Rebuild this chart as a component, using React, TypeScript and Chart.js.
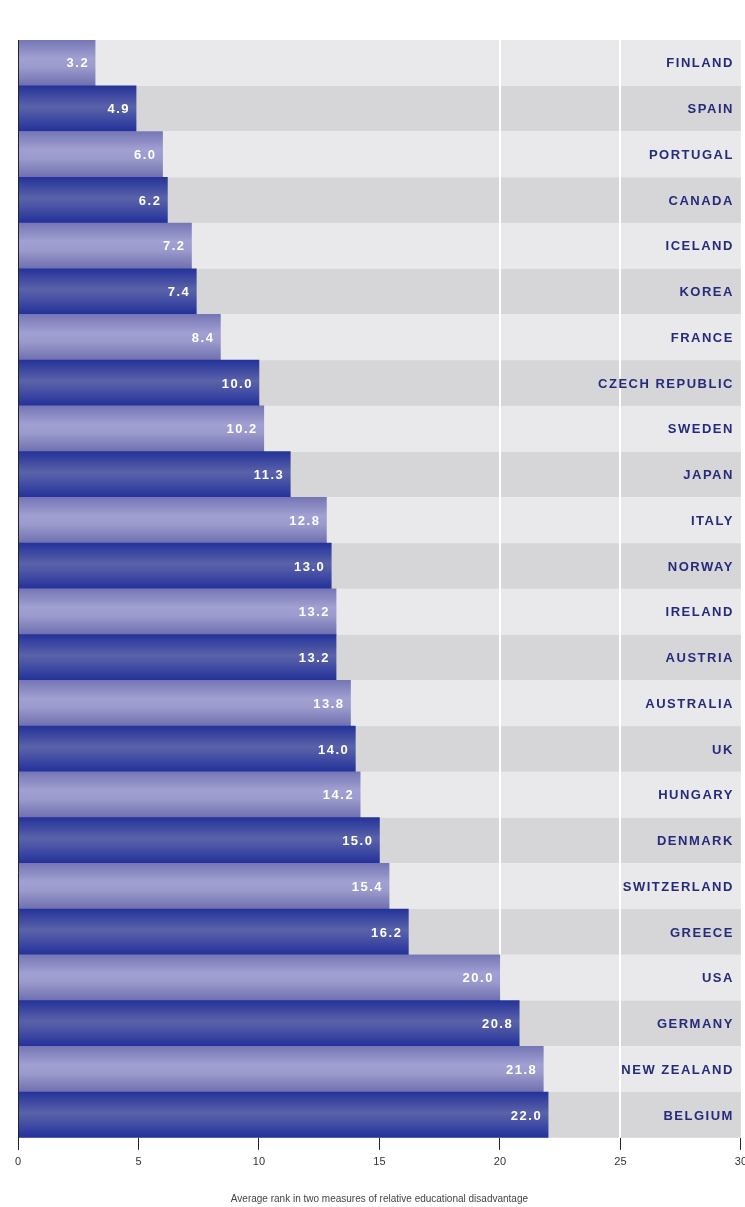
import React, { useEffect, useRef } from "react";
import { Chart, registerables } from "chart.js";

Chart.register(...registerables);

const countries = [
  "FINLAND", "SPAIN", "PORTUGAL", "CANADA", "ICELAND", "KOREA", "FRANCE",
  "CZECH REPUBLIC", "SWEDEN", "JAPAN", "ITALY", "NORWAY", "IRELAND", "AUSTRIA",
  "AUSTRALIA", "UK", "HUNGARY", "DENMARK", "SWITZERLAND", "GREECE", "USA",
  "GERMANY", "NEW ZEALAND", "BELGIUM",
];
const values = [
  3.2, 4.9, 6.0, 6.2, 7.2, 7.4, 8.4, 10.0, 10.2, 11.3, 12.8, 13.0, 13.2, 13.2,
  13.8, 14.0, 14.2, 15.0, 15.4, 16.2, 20.0, 20.8, 21.8, 22.0,
];
const xTicks = [0, 5, 10, 15, 20, 25, 30];
const whiteGridValues = [20, 25];
const axisTitle = "Average rank in two measures of relative educational disadvantage";

const FONT = "'Liberation Sans', Arial, Helvetica, sans-serif";

const overlayPlugin = {
  id: "overlay",
  beforeDatasetsDraw(chart: any) {
    const { ctx, chartArea } = chart;
    const y = chart.scales.y;
    const x = chart.scales.x;
    const n = countries.length;
    const h = (chartArea.bottom - chartArea.top) / n;
    ctx.save();
    for (let i = 0; i < n; i++) {
      const cy = y.getPixelForValue(i);
      ctx.fillStyle = i % 2 === 0 ? "#e9e9eb" : "#d6d6d8";
      ctx.fillRect(chartArea.left, cy - h / 2, chartArea.right - chartArea.left, h);
    }
    ctx.strokeStyle = "#ffffff";
    ctx.lineWidth = 2;
    for (const v of whiteGridValues) {
      const px = Math.round(x.getPixelForValue(v));
      ctx.beginPath();
      ctx.moveTo(px, chartArea.top);
      ctx.lineTo(px, chartArea.bottom);
      ctx.stroke();
    }
    ctx.restore();
  },
  afterDatasetsDraw(chart: any) {
    const { ctx, chartArea } = chart;
    const y = chart.scales.y;
    const x = chart.scales.x;
    ctx.save();
    ctx.textBaseline = "middle";
    ctx.textAlign = "right";
    for (let i = 0; i < countries.length; i++) {
      const cy = y.getPixelForValue(i);
      const end = x.getPixelForValue(values[i]);
      ctx.font = `bold 13px ${FONT}`;
      (ctx as any).letterSpacing = "1.5px";
      ctx.fillStyle = "#ffffff";
      ctx.fillText(values[i].toFixed(1), end - 6, cy + 1);
      ctx.font = `bold 13px ${FONT}`;
      (ctx as any).letterSpacing = "1.5px";
      ctx.fillStyle = "#262a7a";
      ctx.fillText(countries[i], chartArea.right - 7, cy + 1);
    }
    (ctx as any).letterSpacing = "0px";
    ctx.strokeStyle = "#222";
    ctx.lineWidth = 1;
    ctx.beginPath();
    ctx.moveTo(chartArea.left + 0.5, chartArea.top);
    ctx.lineTo(chartArea.left + 0.5, chartArea.bottom + 12);
    ctx.stroke();
    ctx.restore();
  },
};

function barColor(context: any) {
  const chart = context.chart;
  const { chartArea } = chart;
  const i = context.dataIndex;
  const light = i % 2 === 0;
  if (!chartArea) return light ? "#8a8ac4" : "#34409c";
  const n = countries.length;
  const h = (chartArea.bottom - chartArea.top) / n;
  const cy = chart.scales.y.getPixelForValue(i);
  const g = chart.ctx.createLinearGradient(0, cy - h / 2, 0, cy + h / 2);
  if (light) {
    g.addColorStop(0, "#7676b6");
    g.addColorStop(0.4, "#a0a0d2");
    g.addColorStop(0.6, "#9a9acc");
    g.addColorStop(1, "#6f6fb0");
  } else {
    g.addColorStop(0, "#24339a");
    g.addColorStop(0.45, "#5a62a8");
    g.addColorStop(0.6, "#4d57a6");
    g.addColorStop(1, "#22319a");
  }
  return g;
}

export default function App() {
  const ref = useRef<HTMLCanvasElement | null>(null);
  useEffect(() => {
    document.body.style.margin = "0";
    if (!ref.current) return;
    const chart = new Chart(ref.current, {
      type: "bar",
      data: {
        labels: countries,
        datasets: [
          {
            data: values,
            backgroundColor: barColor,
            borderWidth: 0,
            categoryPercentage: 1,
            barPercentage: 1,
          },
        ],
      },
      options: {
        indexAxis: "y",
        responsive: false,
        animation: false,
        layout: { padding: { top: 40, left: 18, right: 0, bottom: 2 } },
        plugins: {
          legend: { display: false },
          tooltip: { enabled: false },
        },
        scales: {
          y: { display: false },
          x: {
            min: 0,
            max: 30,
            afterBuildTicks: (axis: any) => {
              axis.ticks = xTicks.map((v) => ({ value: v }));
            },
            border: { display: false },
            grid: {
              drawOnChartArea: false,
              drawTicks: true,
              tickLength: 12,
              color: "#222",
              lineWidth: 1,
            },
            ticks: {
              color: "#333",
              padding: 6,
              font: { family: FONT, size: 11 },
            },
            title: {
              display: true,
              text: axisTitle,
              color: "#444",
              padding: { top: 18, bottom: 0 },
              font: { family: FONT, size: 10 },
            },
          },
        },
      },
      plugins: [overlayPlugin],
    } as any);
    return () => chart.destroy();
  }, []);
  return (
    <div style={{ width: 745, height: 1207, overflow: "hidden" }}>
      <canvas ref={ref} width={753} height={1207} style={{ display: "block" }} />
    </div>
  );
}
